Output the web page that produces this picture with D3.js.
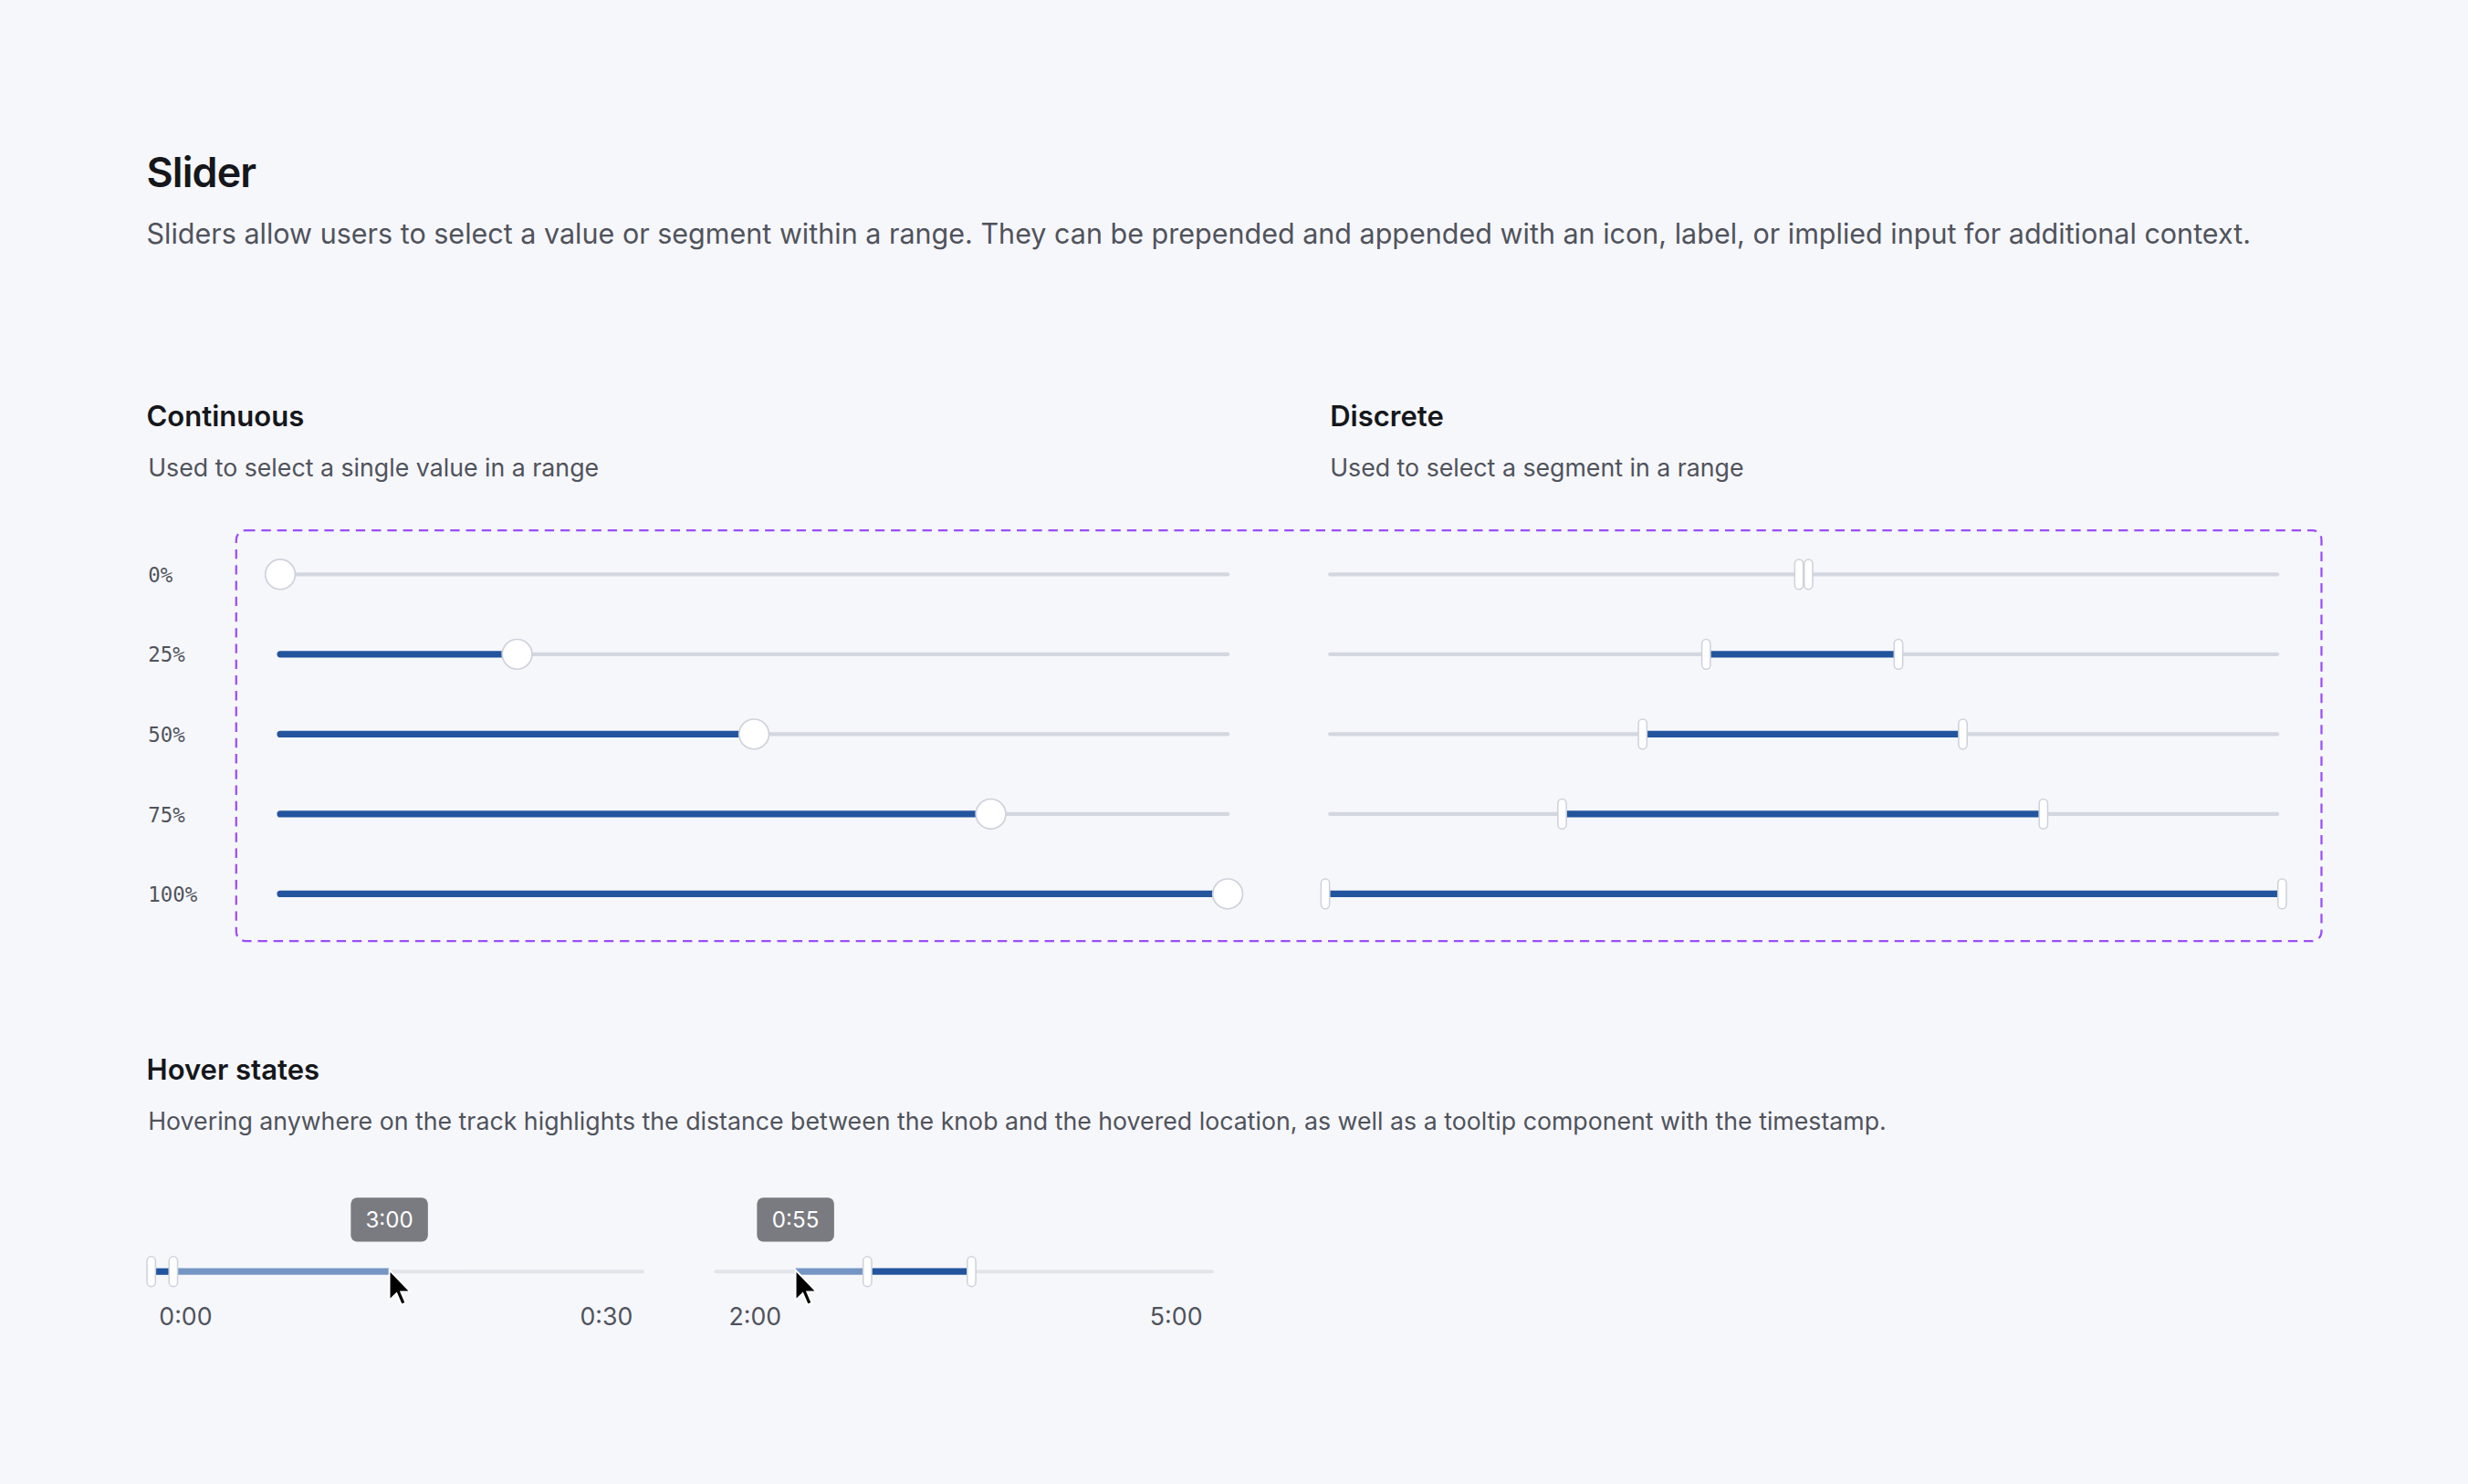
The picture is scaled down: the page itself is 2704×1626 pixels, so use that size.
<!DOCTYPE html>
<html>
<head>
<meta charset="utf-8">
<script src="https://cdn.jsdelivr.net/npm/d3@7"></script>
<style>
  body { margin: 0; background: #f6f7fb; }
  svg { display: block; }
</style>
</head>
<body>
<svg id="chart"></svg>
<script>
// continuous sliders: one value per row
var contLabels = ["0%", "25%", "50%", "75%", "100%"];
var contValues = [0, 0.25, 0.5, 0.75, 1];

// discrete sliders: segment [start, end] per row
var discStart = [0.495, 0.397, 0.33, 0.245, 0];
var discEnd = [0.505, 0.6, 0.668, 0.753, 1];

// hover sliders
var hoverMin = ["0:00", "2:00"];
var hoverMax = ["0:30", "5:00"];
var hoverStart = [0, 0.305];
var hoverEnd = [0.045, 0.515];
var hoverAt = [0.485, 0.16];
var hoverTip = ["3:00", "0:55"];

var W = 1568, H = 943;
var blue = "#23559e", light = "#7596c4", track = "#d3d7e0";
var sans = "Inter, 'Noto Sans', sans-serif";

var svg = d3.select("#chart")
  .attr("width", 2704).attr("height", 1626)
  .attr("viewBox", "0 0 " + W + " " + H);

svg.append("rect").attr("width", W).attr("height", H).attr("fill", "#f6f7fb");

function txt(x, y, s, size, weight, color) {
  return svg.append("text").attr("x", x).attr("y", y)
    .style("font-family", sans)
    .attr("font-size", size).attr("font-weight", weight || 400)
    .attr("fill", color || "#111").text(s);
}

txt(93, 119, "Slider", 26, 600, "#15171c").attr("letter-spacing", -0.5);
txt(93, 155, "Sliders allow users to select a value or segment within a range. They can be prepended and appended with an icon, label, or implied input for additional context.", 17.7, 400, "#50535c");
txt(93, 271, "Continuous", 18, 600, "#15171c");
txt(94, 303, "Used to select a single value in a range", 15.5, 400, "#50535c");
txt(845, 271, "Discrete", 18, 600, "#15171c");
txt(845, 303, "Used to select a segment in a range", 15.5, 400, "#50535c");

svg.append("rect").attr("x", 150).attr("y", 337).attr("width", 1325).attr("height", 261)
  .attr("rx", 6).attr("fill", "none").attr("stroke", "#9b4dff")
  .attr("stroke-width", 1.3).attr("stroke-dasharray", "6,4");

var y = d3.scalePoint().domain(d3.range(5)).range([365, 568]);
var xc = d3.scaleLinear().domain([0, 1]).range([178, 780]);
var xd = d3.scaleLinear().domain([0, 1]).range([845, 1447]);

function line(x1, x2, yy, color, w) {
  svg.append("line").attr("x1", x1).attr("x2", x2).attr("y1", yy).attr("y2", yy)
    .attr("stroke", color).attr("stroke-width", w).attr("stroke-linecap", "round");
}
function pill(cx, cy) {
  svg.append("rect").attr("x", cx - 2.7).attr("y", cy - 9.5).attr("width", 5.4).attr("height", 19)
    .attr("rx", 2.7).attr("fill", "#fff").attr("stroke", "#cfd2dc").attr("stroke-width", 0.9);
}

contValues.forEach(function(v, i) {
  svg.append("text").attr("x", 94).attr("y", y(i) + 5)
    .style("font-family", "'DejaVu Sans Mono', 'Liberation Mono', monospace").attr("font-size", 13)
    .attr("fill", "#50535c").text(contLabels[i]);
  line(xc(0), xc(1), y(i), track, 2.4);
  if (v > 0) line(xc(0), xc(v), y(i), blue, 4.2);
  svg.append("circle").attr("cx", xc(v)).attr("cy", y(i)).attr("r", 9.5)
    .attr("fill", "#fff").attr("stroke", "#cfd2dc").attr("stroke-width", 1);
});

discStart.forEach(function(s, i) {
  var e = discEnd[i];
  line(xd(0), xd(1), y(i), track, 2.4);
  svg.append("line").attr("x1", xd(s)).attr("x2", xd(e)).attr("y1", y(i)).attr("y2", y(i))
    .attr("stroke", blue).attr("stroke-width", 4.2);
  pill(xd(s) - (s === 0 ? 3 : 0), y(i));
  pill(xd(e) + (e === 1 ? 3 : 0), y(i));
});

txt(93, 686, "Hover states", 18, 600, "#15171c");
txt(94, 718, "Hovering anywhere on the track highlights the distance between the knob and the hovered location, as well as a tooltip component with the timestamp.", 15.5, 400, "#50535c");

var hoverRanges = [[96, 408], [455, 770]];
var hy = 808;
hoverRanges.forEach(function(r, i) {
  var x = d3.scaleLinear().domain([0, 1]).range(r);
  line(x(0), x(1), hy, "#e2e4ea", 2.4);
  var a = x(hoverStart[i]), b = x(hoverEnd[i]), h = x(hoverAt[i]);
  svg.append("line").attr("x1", a).attr("x2", b).attr("y1", hy).attr("y2", hy)
    .attr("stroke", blue).attr("stroke-width", 4.2);
  var from = h > b ? b : h, to = h > b ? h : a;
  svg.append("line").attr("x1", from).attr("x2", to).attr("y1", hy).attr("y2", hy)
    .attr("stroke", light).attr("stroke-width", 4.2);
  pill(a, hy);
  pill(b, hy);
  // tooltip
  svg.append("rect").attr("x", h - 24.5).attr("y", 761).attr("width", 49).attr("height", 28)
    .attr("rx", 4).attr("fill", "#7a7b80");
  svg.append("text").attr("x", h).attr("y", 780).attr("text-anchor", "middle")
    .style("font-family", sans).attr("font-size", 14).attr("fill", "#fff").text(hoverTip[i]);
  // labels
  txt(r[0] + (i ? 8 : 5), 842, hoverMin[i], 15.5, 400, "#50535c");
  txt(r[1] - 6, 842, hoverMax[i], 15.5, 400, "#50535c").attr("text-anchor", "end");
  // cursor
  svg.append("path")
    .attr("transform", "translate(" + h + "," + (hy - 1) + ") scale(1.2)")
    .attr("d", "M0,0 L0,16 L3.8,12.4 L6.4,18.4 L8.6,17.4 L6.1,11.6 L11,11.4 Z")
    .attr("fill", "#000").attr("stroke", "#fff").attr("stroke-width", 0.9);
});
</script>
</body>
</html>
